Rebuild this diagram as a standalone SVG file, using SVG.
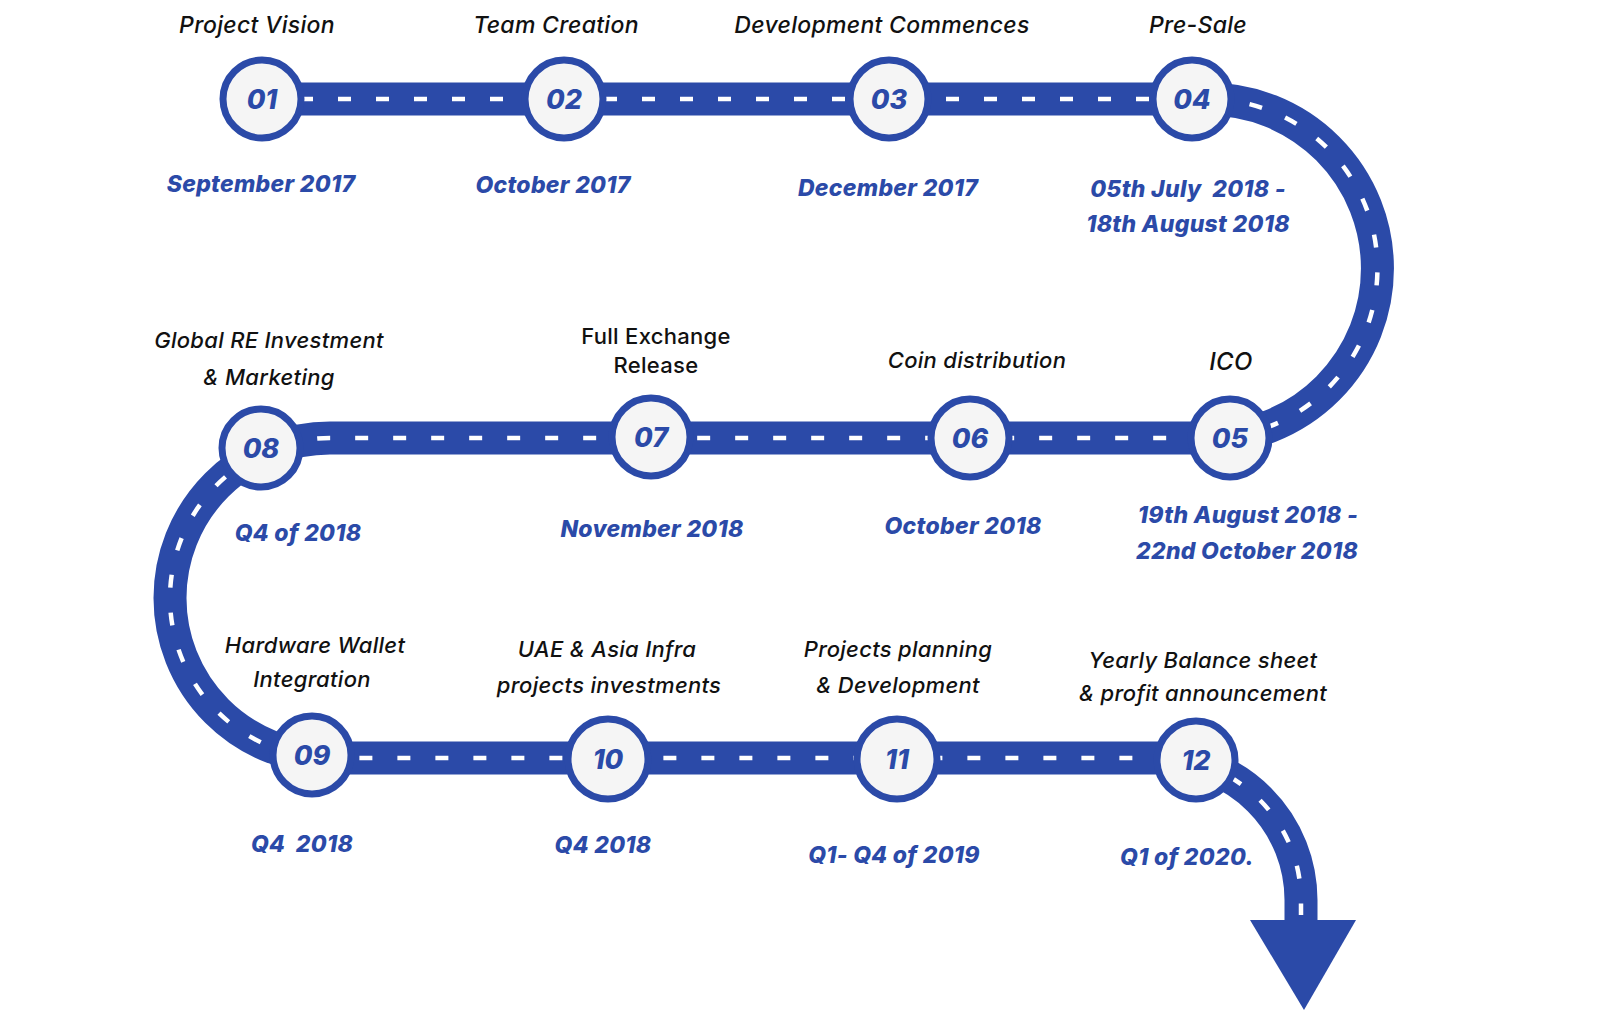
<svg xmlns="http://www.w3.org/2000/svg" width="1600" height="1017" viewBox="0 0 1600 1017">
<style>
.road{fill:none;stroke:#2b4aa8;stroke-width:33}
.dash{fill:none;stroke:#ffffff;stroke-width:4.5;stroke-dasharray:13 25}
.ring{fill:#f5f5f5;stroke:#2b4aa8;stroke-width:7}
.num{font-family:Inter,"Liberation Sans",sans-serif;font-weight:800;font-style:italic;font-size:27px;fill:#2b4aa8;text-anchor:middle}
.title{font-family:Inter,"Liberation Sans",sans-serif;font-weight:500;font-style:italic;font-size:23px;letter-spacing:0.3px;fill:#111;text-anchor:middle}
.sm{font-size:22px}
.plain{font-family:Inter,"Liberation Sans",sans-serif;font-weight:500;font-size:22px;letter-spacing:0.3px;fill:#111;text-anchor:middle}
.date{font-family:Inter,"Liberation Sans",sans-serif;font-weight:800;font-style:italic;font-size:23px;letter-spacing:0.3px;fill:#2b4aa8;text-anchor:middle}
</style>
<rect width="1600" height="1017" fill="#ffffff"/>
<g id="connectors">
<path class="road" d="M262 99 H1208 A169.5 169.5 0 0 1 1208 438 H330 A160 160 0 0 0 330 758 H1159 A142 142 0 0 1 1301 900 V930"/>
<path class="dash" d="M262 99 H1208 A169.5 169.5 0 0 1 1208 438 H330 A160 160 0 0 0 330 758 H1159 A142 142 0 0 1 1301 900 V915"/>
<polygon points="1250,920 1356,920 1304,1010" fill="#2b4aa8"/>
</g>
<g id="m01"><circle class="ring" cx="262" cy="99" r="39"/><text class="num" x="262" y="109">01</text><text class="title" x="257" y="33">Project Vision</text><text class="date" x="261" y="192">September 2017</text></g>
<g id="m02"><circle class="ring" cx="564" cy="99" r="39"/><text class="num" x="564" y="109">02</text><text class="title" x="556" y="33">Team Creation</text><text class="date" x="553" y="193">October 2017</text></g>
<g id="m03"><circle class="ring" cx="889" cy="99" r="39"/><text class="num" x="889" y="109">03</text><text class="title" x="882" y="33">Development Commences</text><text class="date" x="888" y="196">December 2017</text></g>
<g id="m04"><circle class="ring" cx="1192" cy="99" r="39"/><text class="num" x="1192" y="109">04</text><text class="title" x="1198" y="33">Pre-Sale</text><text class="date" x="1188" y="197" xml:space="preserve">05th July  2018 -</text><text class="date" x="1188" y="232">18th August 2018</text></g>
<g id="m05"><circle class="ring" cx="1230" cy="438" r="39"/><text class="num" x="1230" y="448">05</text><text class="title" x="1231" y="370" style="font-size:24px">ICO</text><text class="date" x="1248" y="523">19th August 2018 -</text><text class="date" x="1247" y="559">22nd October 2018</text></g>
<g id="m06"><circle class="ring" cx="970" cy="438" r="39"/><text class="num" x="970" y="448">06</text><text class="title sm" x="977" y="368">Coin distribution</text><text class="date" x="963" y="534">October 2018</text></g>
<g id="m07"><circle class="ring" cx="651" cy="437" r="39"/><text class="num" x="651" y="447">07</text><text class="plain" x="656" y="344">Full Exchange</text><text class="plain" x="656" y="373">Release</text><text class="date" x="652" y="537">November 2018</text></g>
<g id="m08"><circle class="ring" cx="261" cy="448" r="39"/><text class="num" x="261" y="458">08</text><text class="title sm" x="269" y="348">Global RE Investment</text><text class="title sm" x="269" y="385">&amp; Marketing</text><text class="date" x="298" y="541">Q4 of 2018</text></g>
<g id="m09"><circle class="ring" cx="312" cy="755" r="39"/><text class="num" x="312" y="765">09</text><text class="title sm" x="315" y="653">Hardware Wallet</text><text class="title sm" x="312" y="687">Integration</text><text class="date" x="302" y="852" xml:space="preserve">Q4  2018</text></g>
<g id="m10"><circle class="ring" cx="608" cy="759" r="40"/><text class="num" x="608" y="769">10</text><text class="title sm" x="607" y="657">UAE &amp; Asia Infra</text><text class="title sm" x="609" y="693">projects investments</text><text class="date" x="603" y="853">Q4 2018</text></g>
<g id="m11"><circle class="ring" cx="897" cy="759" r="40"/><text class="num" x="897" y="769">11</text><text class="title sm" x="898" y="657">Projects planning</text><text class="title sm" x="898" y="693">&amp; Development</text><text class="date" x="894" y="863">Q1- Q4 of 2019</text></g>
<g id="m12"><circle class="ring" cx="1196" cy="760" r="39"/><text class="num" x="1196" y="770">12</text><text class="title sm" x="1203" y="668">Yearly Balance sheet</text><text class="title sm" x="1203" y="701">&amp; profit announcement</text><text class="date" x="1187" y="865">Q1 of 2020.</text></g>
</svg>
